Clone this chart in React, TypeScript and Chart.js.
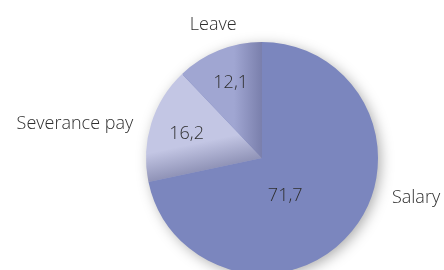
import React, { useEffect, useRef } from 'react';
import { Chart, registerables } from 'chart.js';

Chart.register(...registerables);

// ---- data ----
const categories = ['Salary', 'Severance pay', 'Leave'];
const values = [71.7, 16.2, 12.1];
const valueLabels = ['71,7', '16,2', '12,1'];

// ---- style ----
const sliceColors = ['#7b86be', '#c3c6e4', '#a0a6d2'];
const FONT = '"Open Sans", "DejaVu Sans", sans-serif';
// which edge of a slice gets an inner shading (toward the big slice)
const shadeEdge: (null | 'start' | 'end')[] = [null, 'start', 'end'];
// label anchors relative to pie center, in units of the radius
const valuePos = [
  [0.2, 0.33],
  [-0.65, -0.21],
  [-0.27, -0.65],
];
const namePos: [number, number, CanvasTextAlign][] = [
  [1.12, 0.34, 'left'],
  [-1.11, -0.29, 'right'],
  [-0.42, -1.15, 'center'],
];

const shadowPlugin = {
  id: 'pieShadow',
  beforeDatasetsDraw(chart: any) {
    const arc = chart.getDatasetMeta(0).data[0];
    if (!arc) return;
    const ctx = chart.ctx;
    ctx.save();
    ctx.shadowColor = 'rgba(0,0,0,0.35)';
    ctx.shadowBlur = 14;
    ctx.shadowOffsetX = 3;
    ctx.shadowOffsetY = 3;
    ctx.fillStyle = '#7b86be';
    ctx.beginPath();
    ctx.arc(arc.x, arc.y, arc.outerRadius - 1, 0, Math.PI * 2);
    ctx.fill();
    ctx.restore();
  },
};

const shadePlugin = {
  id: 'pieShade',
  afterDatasetsDraw(chart: any) {
    const meta = chart.getDatasetMeta(0);
    const ctx = chart.ctx;
    meta.data.forEach((arc: any, i: number) => {
      const edge = shadeEdge[i];
      if (!edge) return;
      const a = edge === 'start' ? arc.startAngle : arc.endAngle;
      const nx = edge === 'start' ? -Math.sin(a) : Math.sin(a);
      const ny = edge === 'start' ? Math.cos(a) : -Math.cos(a);
      const d = 28;
      ctx.save();
      ctx.beginPath();
      ctx.moveTo(arc.x, arc.y);
      ctx.arc(arc.x, arc.y, arc.outerRadius, arc.startAngle, arc.endAngle);
      ctx.closePath();
      ctx.clip();
      const g = ctx.createLinearGradient(arc.x + nx * d, arc.y + ny * d, arc.x, arc.y);
      g.addColorStop(0, 'rgba(60,64,110,0)');
      g.addColorStop(1, 'rgba(60,64,110,0.38)');
      ctx.fillStyle = g;
      ctx.fillRect(0, 0, chart.width, chart.height);
      ctx.restore();
    });
  },
};

const labelPlugin = {
  id: 'pieLabels',
  afterDatasetsDraw(chart: any) {
    const meta = chart.getDatasetMeta(0);
    const ctx = chart.ctx;
    ctx.save();
    ctx.font = `300 18px ${FONT}`;
    ctx.fillStyle = '#2e2e2e';
    ctx.textBaseline = 'middle';
    meta.data.forEach((arc: any, i: number) => {
      const r = arc.outerRadius;
      ctx.textAlign = 'center';
      ctx.fillText(valueLabels[i], arc.x + valuePos[i][0] * r, arc.y + valuePos[i][1] * r);
      const [nx, ny, al] = namePos[i];
      ctx.textAlign = al;
      ctx.fillText(categories[i], arc.x + nx * r, arc.y + ny * r);
    });
    ctx.restore();
  },
};

export default function App() {
  const ref = useRef<HTMLCanvasElement>(null);
  useEffect(() => {
    if (!ref.current) return;
    const chart = new Chart(ref.current, {
      type: 'pie',
      data: {
        labels: categories,
        datasets: [
          {
            data: values,
            backgroundColor: sliceColors,
            borderWidth: 0,
            radius: 116,
          },
        ],
      },
      options: {
        animation: false,
        responsive: false,
        layout: { padding: { left: 146, right: 66, top: 46, bottom: 0 } },
        plugins: {
          legend: { display: false },
          tooltip: { enabled: false },
        },
      },
      plugins: [shadowPlugin, shadePlugin, labelPlugin],
    });
    return () => chart.destroy();
  }, []);
  return (
    <div style={{ position: 'fixed', left: 0, top: 0, width: 444, height: 270, background: '#fff' }}>
      <canvas ref={ref} width={444} height={270} style={{ width: 444, height: 270 }} />
    </div>
  );
}
